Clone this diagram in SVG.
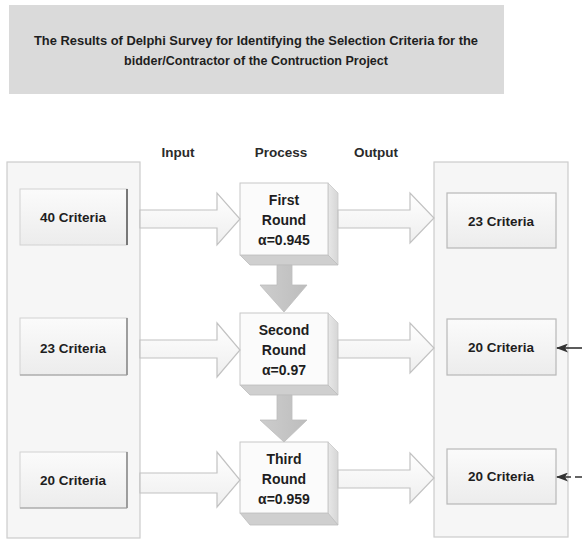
<svg xmlns="http://www.w3.org/2000/svg" width="582" height="540" viewBox="0 0 582 540">
  <style>
    text { font-family: "Liberation Sans", Arial, sans-serif; font-weight: bold; fill: #1e1e1e; text-anchor: middle; }
    .title { font-size: 12.5px; }
    .head { font-size: 13.5px; fill: #2a2a2a; }
    .lbl { font-size: 13.5px; }
    .proc { font-size: 14px; }
    .panel { fill: #f6f6f6; stroke: #cccccc; stroke-width: 1.2; }
    .inbox { fill: url(#boxGrad); stroke: #d2d2d2; stroke-width: 1; }
    .outbox { fill: url(#boxGrad); stroke: #b8b8b8; stroke-width: 1.2; }
    .front { fill: #fbfbfb; stroke: #c8c8c8; stroke-width: 1; }
    .side { fill: url(#sideGrad); stroke: #c8c8c8; stroke-width: 0.8; }
    .bottom { fill: #cfcfcf; stroke: #bdbdbd; stroke-width: 0.8; }
    .fat { fill: url(#arrowGrad); stroke: #c2c2c2; stroke-width: 1.2; stroke-linejoin: miter; }
    .down { fill: url(#downGrad); stroke: #bcbcbc; stroke-width: 0.8; }
    .feed { stroke: #333; stroke-width: 1.6; fill: none; }
  </style>
  <defs>
    <linearGradient id="boxGrad" x1="0" y1="0" x2="0" y2="1">
      <stop offset="0" stop-color="#fbfbfb"/>
      <stop offset="1" stop-color="#ececec"/>
    </linearGradient>
    <linearGradient id="sideGrad" x1="0" y1="0" x2="1" y2="0">
      <stop offset="0" stop-color="#e8e8e8"/>
      <stop offset="1" stop-color="#d6d6d6"/>
    </linearGradient>
    <linearGradient id="arrowGrad" x1="0" y1="0" x2="0" y2="1">
      <stop offset="0" stop-color="#ffffff"/>
      <stop offset="1" stop-color="#eeeeee"/>
    </linearGradient>
    <linearGradient id="downGrad" x1="0" y1="0" x2="1" y2="0">
      <stop offset="0" stop-color="#cdcdcd"/>
      <stop offset="1" stop-color="#bdbdbd"/>
    </linearGradient>
    <marker id="headFill" markerWidth="12" markerHeight="9" refX="11" refY="4.5" orient="auto" markerUnits="userSpaceOnUse">
      <path d="M0,0 L12,4.5 L0,9 L3,4.5 Z" fill="#333"/>
    </marker>
  </defs>

  <!-- heading banner -->
  <g id="title">
    <rect x="9" y="5" width="495" height="89" fill="#dadada"/>
    <text class="title" x="256" y="45" textLength="444" lengthAdjust="spacingAndGlyphs">The Results of Delphi Survey for Identifying the Selection Criteria for the</text>
    <text class="title" x="256" y="65" textLength="264" lengthAdjust="spacingAndGlyphs">bidder/Contractor of the Contruction Project</text>
  </g>

  <!-- column headings -->
  <g id="headings">
    <text class="head" x="178" y="157">Input</text>
    <text class="head" x="281" y="157">Process</text>
    <text class="head" x="376" y="157">Output</text>
  </g>

  <!-- side panels -->
  <g id="input-panel">
    <rect class="panel" x="7" y="162" width="133" height="376"/>
  </g>
  <g id="output-panel">
    <rect class="panel" x="434" y="162" width="134" height="375"/>
  </g>

  <!-- input boxes -->
  <g id="in-40">
    <rect class="inbox" x="20" y="189" width="107" height="56"/>
    <line x1="127" y1="189" x2="127" y2="245" stroke="#555" stroke-width="1.5"/>
    <text class="lbl" x="73" y="222">40 Criteria</text>
  </g>
  <g id="in-23">
    <rect class="inbox" x="20" y="318" width="107" height="57"/>
    <line x1="127" y1="318" x2="127" y2="375" stroke="#777" stroke-width="1.3"/>
    <line x1="20" y1="375" x2="127" y2="375" stroke="#999" stroke-width="1.2"/>
    <text class="lbl" x="73" y="353">23 Criteria</text>
  </g>
  <g id="in-20">
    <rect class="inbox" x="20" y="452" width="107" height="56"/>
    <line x1="127" y1="452" x2="127" y2="508" stroke="#777" stroke-width="1.3"/>
    <line x1="20" y1="508" x2="127" y2="508" stroke="#999" stroke-width="1.2"/>
    <text class="lbl" x="73" y="485">20 Criteria</text>
  </g>

  <!-- output boxes -->
  <g id="out-23">
    <rect class="outbox" x="447" y="193" width="109" height="55"/>
    <text class="lbl" x="501" y="226">23 Criteria</text>
  </g>
  <g id="out-20a">
    <rect class="outbox" x="447" y="319" width="109" height="56"/>
    <text class="lbl" x="501" y="352">20 Criteria</text>
  </g>
  <g id="out-20b">
    <rect class="outbox" x="447" y="449" width="109" height="55"/>
    <text class="lbl" x="501" y="481">20 Criteria</text>
  </g>

  <!-- process rounds (bevelled blocks) -->
  <g id="round-1">
    <polygon class="side" points="328,183 338,193 338,265 328,255"/>
    <polygon class="bottom" points="240,255 328,255 338,265 250,265"/>
    <rect class="front" x="240" y="183" width="88" height="72"/>
    <text class="proc" x="284" y="205">First</text>
    <text class="proc" x="284" y="225">Round</text>
    <text class="proc" x="284" y="245">α=0.945</text>
  </g>
  <g id="round-2">
    <polygon class="side" points="328,313 338,323 338,395 328,385"/>
    <polygon class="bottom" points="240,385 328,385 338,395 250,395"/>
    <rect class="front" x="240" y="313" width="88" height="72"/>
    <text class="proc" x="284" y="335">Second</text>
    <text class="proc" x="284" y="355">Round</text>
    <text class="proc" x="284" y="375">α=0.97</text>
  </g>
  <g id="round-3">
    <polygon class="side" points="328,442 338,452 338,525 328,515"/>
    <polygon class="bottom" points="240,513 328,513 338,525 250,525"/>
    <rect class="front" x="240" y="442" width="88" height="71"/>
    <text class="proc" x="284" y="464">Third</text>
    <text class="proc" x="284" y="484">Round</text>
    <text class="proc" x="284" y="504">α=0.959</text>
  </g>

  <!-- connectors -->
  <g id="connectors">
    <!-- input to process -->
    <polygon class="fat" points="140,210 217,210 217,193 240,219 217,245 217,228 140,228"/>
    <polygon class="fat" points="140,340 217,340 217,323 240,350 217,377 217,358 140,358"/>
    <polygon class="fat" points="140,473 217,473 217,452 240,480 217,507 217,493 140,493"/>
    <!-- process to output -->
    <polygon class="fat" points="338,210 410,210 410,193 434,218 410,243 410,228 338,228"/>
    <polygon class="fat" points="338,340 410,340 410,323 434,348 410,373 410,358 338,358"/>
    <polygon class="fat" points="338,470 410,470 410,453 434,478 410,503 410,488 338,488"/>
    <!-- round to round -->
    <polygon class="down" points="277,265 292,265 292,285 307,285 284,312 260,285 277,285"/>
    <polygon class="down" points="277,395 292,395 292,420 307,420 284,442 260,420 277,420"/>
    <!-- feedback into outputs -->
    <line class="feed" x1="582" y1="348" x2="557" y2="348" marker-end="url(#headFill)"/>
    <line class="feed" x1="582" y1="477" x2="557" y2="477" stroke-dasharray="7,4" marker-end="url(#headFill)"/>
  </g>
</svg>
